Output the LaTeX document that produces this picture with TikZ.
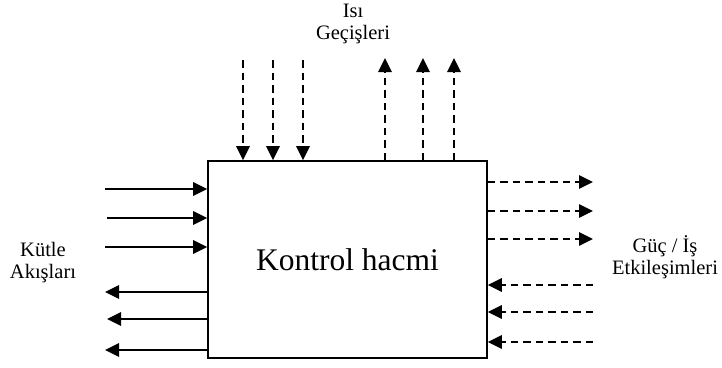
\documentclass[tikz,border=0pt]{standalone}
\usepackage{fontspec}
\setmainfont{Liberation Serif}
\usetikzlibrary{arrows.meta}
\begin{document}
\begin{tikzpicture}[x=1pt,y=-1pt,
  flow/.style={line width=1.6pt,-{Triangle[length=14pt,width=13.5pt]}},
  dflow/.style={flow,dash pattern=on 7.5pt off 5pt},
  lbl/.style={align=center,inner sep=0pt,font=\fontsize{20.5}{22}\selectfont},
  cvbox/.style={draw,line width=1.7pt,minimum width=279pt,minimum height=197pt,inner sep=0pt,font=\fontsize{31.5}{33}\selectfont}]
\useasboundingbox (0,0) rectangle (722,367);
\node[cvbox] (box) at (347.5,259.5) {Kontrol hacmi};
% labels
\node[lbl] (isi) at (353,23.5) {Isı\\Geçişleri};
\node[lbl] (kutle) at (43,262.5) {Kütle\\Akışları};
\node[lbl] (guc) at (665,257.5) {Güç / İş\\Etkileşimleri};
% left mass flows in
\coordinate (li1) at (105,189);
\coordinate (li2) at (107,218);
\coordinate (li3) at (105,247);
\draw[flow] (li1) -- (box.west |- li1);
\draw[flow] (li2) -- (box.west |- li2);
\draw[flow] (li3) -- (box.west |- li3);
% left mass flows out
\coordinate (lo1) at (105,292);
\coordinate (lo2) at (107,319);
\coordinate (lo3) at (105,350);
\draw[flow] (box.west |- lo1) -- (lo1);
\draw[flow] (box.west |- lo2) -- (lo2);
\draw[flow] (box.west |- lo3) -- (lo3);
% right work out
\coordinate (ro1) at (593,182);
\coordinate (ro2) at (593,211);
\coordinate (ro3) at (593,239);
\draw[dflow] (box.east |- ro1) -- (ro1);
\draw[dflow] (box.east |- ro2) -- (ro2);
\draw[dflow] (box.east |- ro3) -- (ro3);
% right work in
\coordinate (ri1) at (593,285);
\coordinate (ri2) at (593,312);
\coordinate (ri3) at (593,342);
\draw[dflow] (ri1) -- (box.east |- ri1);
\draw[dflow] (ri2) -- (box.east |- ri2);
\draw[dflow] (ri3) -- (box.east |- ri3);
% top heat in
\coordinate (ti1) at (243,60);
\coordinate (ti2) at (273,60);
\coordinate (ti3) at (303,60);
\draw[dflow] (ti1) -- (box.north -| ti1);
\draw[dflow] (ti2) -- (box.north -| ti2);
\draw[dflow] (ti3) -- (box.north -| ti3);
% top heat out
\coordinate (to1) at (385,58);
\coordinate (to2) at (423,58);
\coordinate (to3) at (454,58);
\draw[dflow] (box.north -| to1) -- (to1);
\draw[dflow] (box.north -| to2) -- (to2);
\draw[dflow] (box.north -| to3) -- (to3);
\end{tikzpicture}
\end{document}
